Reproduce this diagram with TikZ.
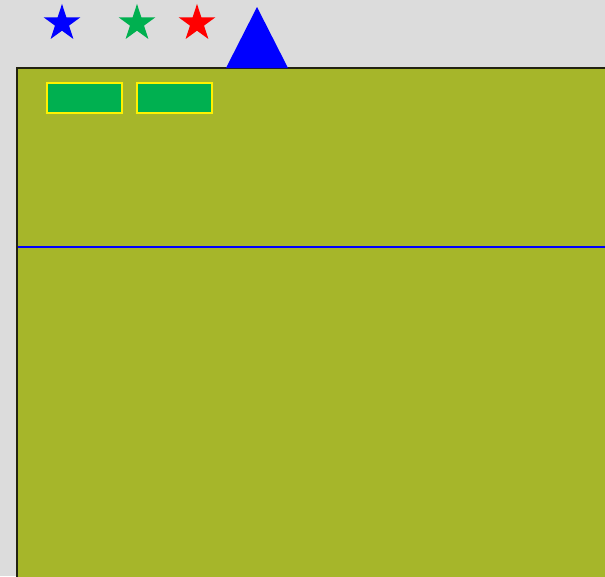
\documentclass[tikz,border=0pt]{standalone}
\definecolor{bggray}{HTML}{DCDCDC}
\definecolor{olivefill}{HTML}{A6B62A}
\definecolor{boxgreen}{HTML}{00B050}
\definecolor{edgedark}{HTML}{222211}
\begin{document}
\begin{tikzpicture}[x=1pt,y=-1pt,
  greenbox/.style={fill=boxgreen,draw=yellow,line width=1.8pt},
  panel/.style={fill=olivefill,draw=edgedark,line width=2pt}]
\useasboundingbox (0,0) rectangle (605,576);
\clip (0,0) rectangle (605,576);
\fill[bggray] (0,0) rectangle (605,576);
% panel
\draw[panel] (17,68) rectangle (620,590);
% blue separator
\draw[blue,line width=2pt] (18,247) -- (605,247);
% green boxes
\draw[greenbox] (47,83) rectangle (122,113);
\draw[greenbox] (137,83) rectangle (212,113);
% stars
\foreach \cx/\col in {62/blue,137/boxgreen,197/red}{
  \fill[\col] (\cx,23.3)
    +(90:-19.4) -- +(126:-7.4) -- +(162:-19.4) -- +(198:-7.4) -- +(234:-19.4)
    -- +(270:-7.4) -- +(306:-19.4) -- +(342:-7.4) -- +(18:-19.4) -- +(54:-7.4) -- cycle;
}
% triangle
\fill[blue] (257,7) -- (288,68) -- (226,68) -- cycle;
\end{tikzpicture}
\end{document}
